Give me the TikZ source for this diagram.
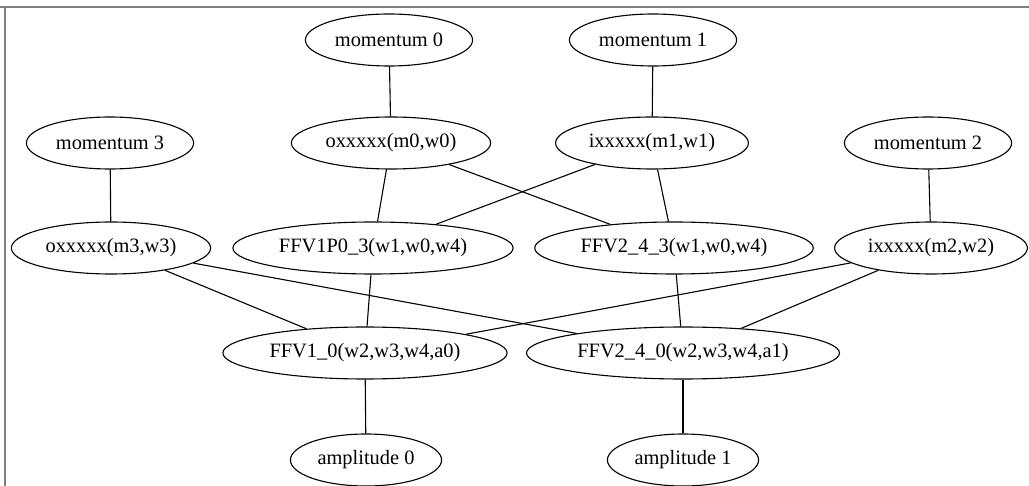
\documentclass[tikz,border=0pt]{standalone}
\usepackage{fontspec}
\setmainfont{Liberation Serif}
\usetikzlibrary{shapes.geometric}

\begin{document}
\begin{tikzpicture}[x=1pt, y=-1pt,
        vertex/.style={ellipse, draw, line width=1.1pt, inner xsep=5pt, inner ysep=0pt,
            minimum height=52pt, font=\fontsize{20.4}{24}\selectfont},
        wire/.style={line width=1.1pt}]
        \useasboundingbox (0,0) rectangle (1029,486);

        % Draw the frame round the graph
        \draw[gray, line width=2pt] (0,7) -- (1029,7);
        \draw[gray, line width=2pt] (5,7) -- (5,486);

        % Draw the momenta
        \node[vertex] (mom0) at (389,40) {momentum 0};
        \node[vertex] (mom1) at (653,40) {momentum 1};
        \node[vertex] (mom3) at (110,143) {momentum 3};
        \node[vertex] (mom2) at (928,143) {momentum 2};

        % Draw the external wave functions
        \node[vertex] (ext0) at (391,143) {oxxxxx(m0,w0)};
        \node[vertex] (ext1) at (652,143) {ixxxxx(m1,w1)};
        \node[vertex] (ext3) at (111,248) {oxxxxx(m3,w3)};
        \node[vertex] (ext2) at (931,248) {ixxxxx(m2,w2)};

        % Draw the internal wave functions
        \node[vertex] (int0) at (373,248) {FFV1P0\_3(w1,w0,w4)};
        \node[vertex] (int1) at (674,248) {FFV2\_4\_3(w1,w0,w4)};

        % Draw the vertices
        \node[vertex] (vtx0) at (365,353) {FFV1\_0(w2,w3,w4,a0)};
        \node[vertex] (vtx1) at (683,353) {FFV2\_4\_0(w2,w3,w4,a1)};

        % Draw the amplitudes
        \node[vertex] (amp0) at (366,460) {amplitude 0};
        \node[vertex] (amp1) at (683,460) {amplitude 1};

        % Connect them
        \draw[wire] (mom0) -- (ext0);
        \draw[wire] (mom1) -- (ext1);
        \draw[wire] (mom3) -- (ext3);
        \draw[wire] (mom2) -- (ext2);
        \draw[wire] (ext0) -- (int0);
        \draw[wire] (ext0) -- (int1);
        \draw[wire] (ext1) -- (int0);
        \draw[wire] (ext1) -- (int1);
        \draw[wire] (ext3) -- (vtx0);
        \draw[wire] (ext3) -- (vtx1);
        \draw[wire] (ext2) -- (vtx0);
        \draw[wire] (ext2) -- (vtx1);
        \draw[wire] (int0) -- (vtx0);
        \draw[wire] (int1) -- (vtx1);
        \draw[wire] (vtx0) -- (amp0);
        \draw[wire] (vtx1) -- (amp1);

    \end{tikzpicture}
\end{document}
